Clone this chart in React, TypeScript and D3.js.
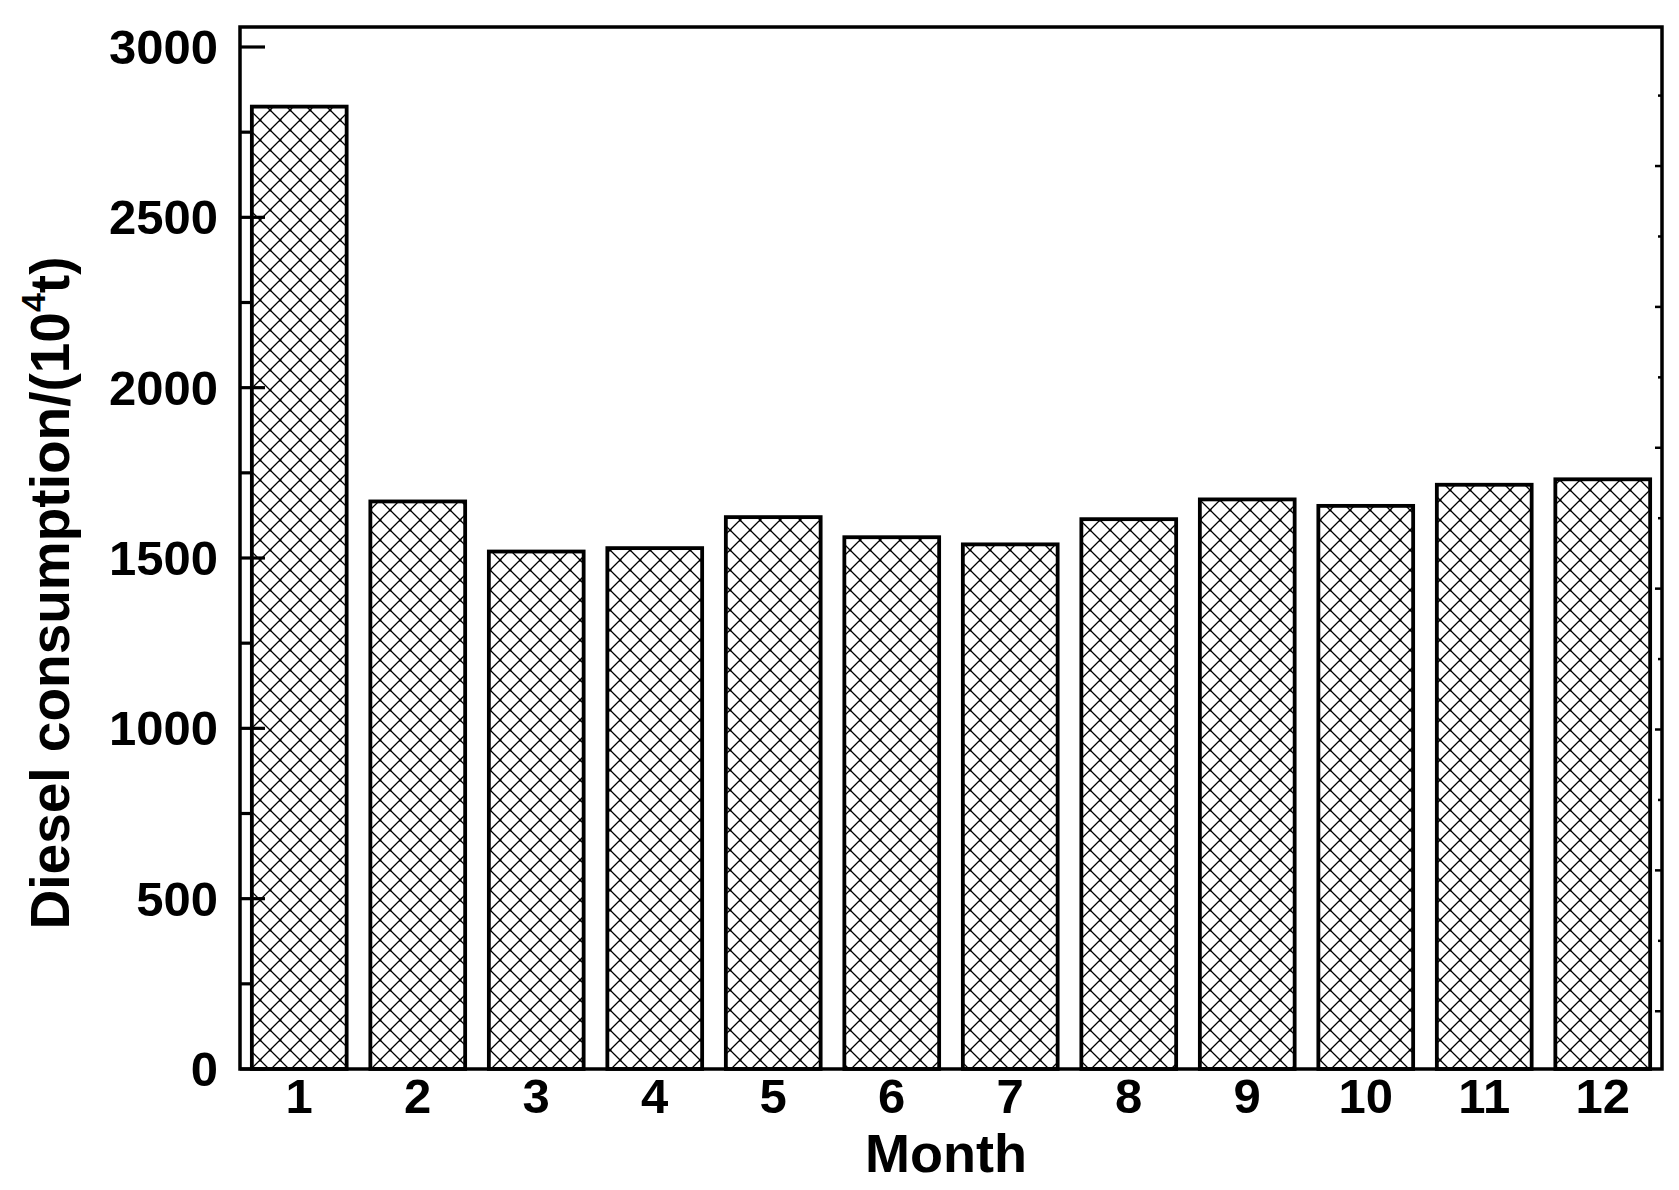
import React, { useEffect } from "react";
import * as d3 from "d3";

const months: string[] = ["1", "2", "3", "4", "5", "6", "7", "8", "9", "10", "11", "12"];
const consumption: number[] = [2825, 1666, 1519, 1529, 1620, 1561, 1540, 1614, 1672, 1653, 1715, 1731];
const yMajorTicks: number[] = [0, 500, 1000, 1500, 2000, 2500, 3000];
const yMinorTicks: number[] = [250, 750, 1250, 1750, 2250, 2750];
const rightMajorTicks: number[] = [0, 1, 2, 3, 4, 5, 6];
const rightMinorTicks: number[] = [0.5, 1.5, 2.5, 3.5, 4.5, 5.5, 6.5];

const W = 1679;
const H = 1190;
const left = 240;
const right = 1662;
const top = 27;
const bottom = 1069;

export default function App() {
  useEffect(() => {
    document.body.style.margin = "0";
  }, []);

  const x = d3.scaleBand<string>().domain(months).range([left, right]).paddingInner(0.2).paddingOuter(0.1);
  const y = d3.scaleLinear().domain([0, 3000]).range([bottom, 47]);
  const yTop = y.invert(top);
  const yR = d3.scaleLinear().domain([-0.41, 6.987]).range([bottom, top]);
  const font = "'Liberation Sans', Arial, sans-serif";

  return (
    <svg width={W} height={H} style={{ display: "block", background: "#fff" }}>
      <defs>
        <pattern id="hatch" patternUnits="userSpaceOnUse" width={20} height={20} x={left} y={0}>
          <rect width={20} height={20} fill="#fff" />
          <path d="M-5,-5 L25,25 M25,-5 L-5,25 M-5,15 L5,25 M15,-5 L25,5 M15,25 L25,15 M-5,5 L5,-5" stroke="#000" strokeWidth={1.25} />
          <rect x={9} y={9} width={2.4} height={2.4} fill="#000" />
          <rect x={-1} y={-1} width={2.4} height={2.4} fill="#000" />
          <rect x={19} y={-1} width={2.4} height={2.4} fill="#000" />
          <rect x={-1} y={19} width={2.4} height={2.4} fill="#000" />
          <rect x={19} y={19} width={2.4} height={2.4} fill="#000" />
        </pattern>
      </defs>
      {consumption.map((v, i) => (
        <rect
          key={i}
          x={x(months[i])!}
          y={y(v)}
          width={x.bandwidth()}
          height={y(0) - y(v)}
          fill="url(#hatch)"
          stroke="#000"
          strokeWidth={3.8}
        />
      ))}
      {yMajorTicks.map((t) => (
        <line key={"M" + t} x1={left} x2={left + 25} y1={y(t)} y2={y(t)} stroke="#000" strokeWidth={3.2} />
      ))}
      {yMinorTicks.map((t) => (
        <line key={"m" + t} x1={left} x2={left + 13} y1={y(t)} y2={y(t)} stroke="#000" strokeWidth={3.2} />
      ))}
      {rightMajorTicks.map((t) => (
        <line key={"RM" + t} x1={right} x2={right - 7} y1={yR(t)} y2={yR(t)} stroke="#000" strokeWidth={2.5} />
      ))}
      {rightMinorTicks.map((t) => (
        <line key={"Rm" + t} x1={right} x2={right - 4} y1={yR(t)} y2={yR(t)} stroke="#000" strokeWidth={2.5} />
      ))}
      <rect x={left} y={y(yTop)} width={right - left} height={y(0) - y(yTop)} fill="none" stroke="#000" strokeWidth={3.5} />
      {yMajorTicks.map((t) => (
        <text
          key={"l" + t}
          x={left - 22}
          y={y(t) + 17}
          textAnchor="end"
          fontFamily={font}
          fontWeight="bold"
          fontSize={49}
          fill="#000"
        >
          {t}
        </text>
      ))}
      {months.map((m) => (
        <text
          key={"x" + m}
          x={x(m)! + x.bandwidth() / 2}
          y={1113}
          textAnchor="middle"
          fontFamily={font}
          fontWeight="bold"
          fontSize={49}
          fill="#000"
        >
          {m}
        </text>
      ))}
      <text x={946} y={1172} textAnchor="middle" fontFamily={font} fontWeight="bold" fontSize={54} fill="#000">
        Month
      </text>
      <text
        transform="translate(69,593) rotate(-90)"
        textAnchor="middle"
        fontFamily={font}
        fontWeight="bold"
        fontSize={55}
        fill="#000"
      >
        Diesel consumption/(10
        <tspan fontSize={34} dy={-24}>4</tspan>
        <tspan dy={24}>t)</tspan>
      </text>
    </svg>
  );
}
